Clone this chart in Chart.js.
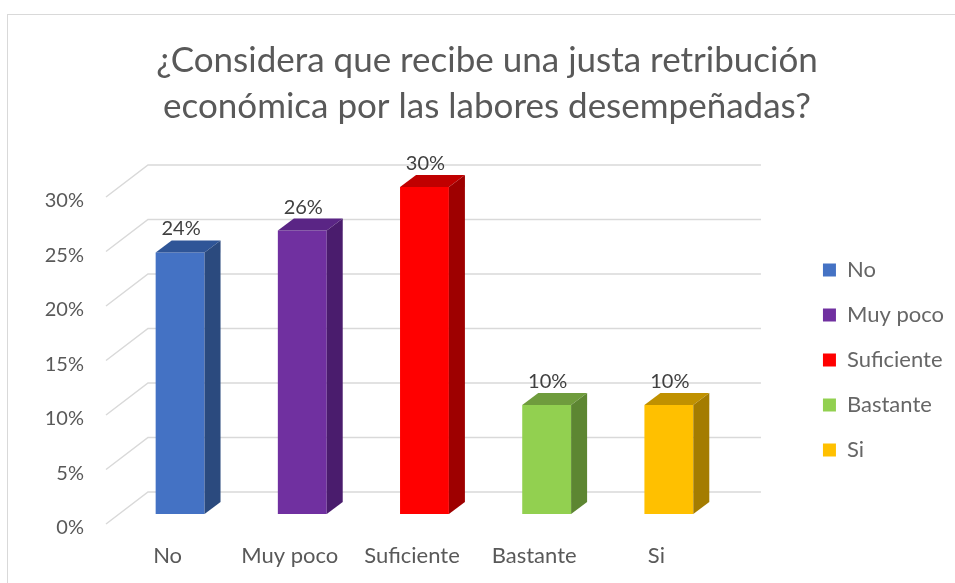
<!DOCTYPE html>
<html lang="es">
<head>
<meta charset="utf-8">
<title>Justa retribución económica</title>
<script src="https://cdn.jsdelivr.net/npm/chart.js@4.4.1/dist/chart.umd.min.js"></script>
<style>
  html, body { margin: 0; padding: 0; background: #fff; overflow: hidden; }
  #frame { position: absolute; left: 7px; top: 14px; width: 980px; height: 600px; border: 1px solid #d9d9d9; }
  #chart { position: absolute; left: 0; top: 0; }
</style>
</head>
<body>
<div id="frame"></div>
<canvas id="chart" width="955" height="583"></canvas>
<script>
(function () {
  'use strict';

  var titleLines = ['¿Considera que recibe una justa retribución', 'económica por las labores desempeñadas?'];
  var categories = ['No', 'Muy poco', 'Suficiente', 'Bastante', 'Si'];
  var shares = [0.24, 0.26, 0.30, 0.10, 0.10];
  var yMax = 0.30;
  var yStep = 0.05;

  // colores de Excel: cara frontal, tapa y lateral
  var frontColors = ['#4472c4', '#7030a0', '#ff0000', '#92d050', '#ffc000'];
  var topColors = ['#2f5597', '#5a2585', '#c00000', '#6f9c3d', '#c09100'];
  var sideColors = ['#2b4a7e', '#4a1c6d', '#9e0000', '#5d8632', '#a47c00'];

  var textColor = '#595959';
  var gridColor = '#d9d9d9';
  var DX = 16, DY = -12;

  function pct(v) {
    return Math.round(v * 100) + '%';
  }

  var wallPlugin = {
    id: 'wall3d',
    beforeDatasetsDraw: function (chart) {
      var ctx = chart.ctx;
      var area = chart.chartArea;
      var y = chart.scales.y;
      ctx.save();
      ctx.strokeStyle = gridColor;
      ctx.lineWidth = 1.5;
      y.ticks.forEach(function (t) {
        var py = y.getPixelForValue(t.value);
        ctx.beginPath();
        ctx.moveTo(area.left - 13, py + 10);
        ctx.lineTo(area.left + 29, py - 22);
        ctx.lineTo(area.right + 31, py - 22);
        ctx.stroke();
      });
      ctx.restore();
    }
  };

  var barPlugin = {
    id: 'bars3d',
    afterDatasetsDraw: function (chart) {
      var ctx = chart.ctx;
      var meta = chart.getDatasetMeta(0);
      ctx.save();
      meta.data.forEach(function (bar, i) {
        var p = bar.getProps(['x', 'y', 'base', 'width'], true);
        var l = p.x - p.width / 2;
        var r = p.x + p.width / 2;

        ctx.fillStyle = topColors[i];
        ctx.beginPath();
        ctx.moveTo(l, p.y);
        ctx.lineTo(l + DX, p.y + DY);
        ctx.lineTo(r + DX, p.y + DY);
        ctx.lineTo(r, p.y);
        ctx.closePath();
        ctx.fill();

        ctx.fillStyle = sideColors[i];
        ctx.beginPath();
        ctx.moveTo(r, p.y);
        ctx.lineTo(r + DX, p.y + DY);
        ctx.lineTo(r + DX, p.base + DY);
        ctx.lineTo(r, p.base);
        ctx.closePath();
        ctx.fill();

        ctx.fillStyle = '#404040';
        ctx.font = '20px Lato';
        ctx.textAlign = 'center';
        ctx.textBaseline = 'alphabetic';
        ctx.fillText(pct(shares[i]), p.x + 1, p.y - 17);
      });
      ctx.restore();
    }
  };

  new Chart(document.getElementById('chart'), {
    type: 'bar',
    data: {
      labels: categories,
      datasets: [{
        data: shares,
        backgroundColor: frontColors,
        borderWidth: 0,
        barPercentage: 0.4,
        categoryPercentage: 1
      }]
    },
    options: {
      responsive: false,
      animation: false,
      layout: { padding: { left: 20, right: 1, top: 0, bottom: 0 } },
      plugins: {
        tooltip: { enabled: false },
        title: {
          display: true,
          text: titleLines,
          color: textColor,
          font: { family: 'Lato', size: 35, weight: 'normal', lineHeight: 46 / 35 },
          padding: { top: 38, bottom: 57 }
        },
        legend: {
          position: 'right',
          fullSize: false,
          title: { display: true, text: ' ', padding: 0, font: { size: 19, lineHeight: 1 } },
          labels: {
            boxWidth: 13,
            boxHeight: 13,
            padding: 23,
            color: textColor,
            font: { family: 'Lato', size: 22 },
            generateLabels: function () {
              return categories.map(function (c, i) {
                return { text: c, fillStyle: frontColors[i], strokeStyle: frontColors[i], lineWidth: 0, hidden: false, index: i };
              });
            }
          }
        }
      },
      scales: {
        x: {
          grid: { display: false, drawTicks: false },
          border: { display: false },
          ticks: {
            color: textColor,
            font: { family: 'Lato', size: 22 },
            padding: 29,
            labelOffset: -12.5,
            maxRotation: 0
          },
          afterFit: function (s) { s.height = 69; }
        },
        y: {
          min: 0,
          max: yMax,
          grid: { display: false, drawTicks: false },
          border: { display: false },
          ticks: {
            stepSize: yStep,
            color: textColor,
            font: { family: 'Lato', size: 20 },
            padding: 35,
            labelOffset: 14,
            callback: function (v) { return pct(v); }
          },
          afterFit: function (s) { s.width = 99; }
        },
        spacer: {
          type: 'linear',
          position: 'right',
          display: true,
          grid: { display: false, drawTicks: false },
          border: { display: false },
          ticks: { display: false },
          afterFit: function (s) { s.width = 70; }
        }
      }
    },
    plugins: [wallPlugin, barPlugin]
  });
})();
</script>
</body>
</html>
